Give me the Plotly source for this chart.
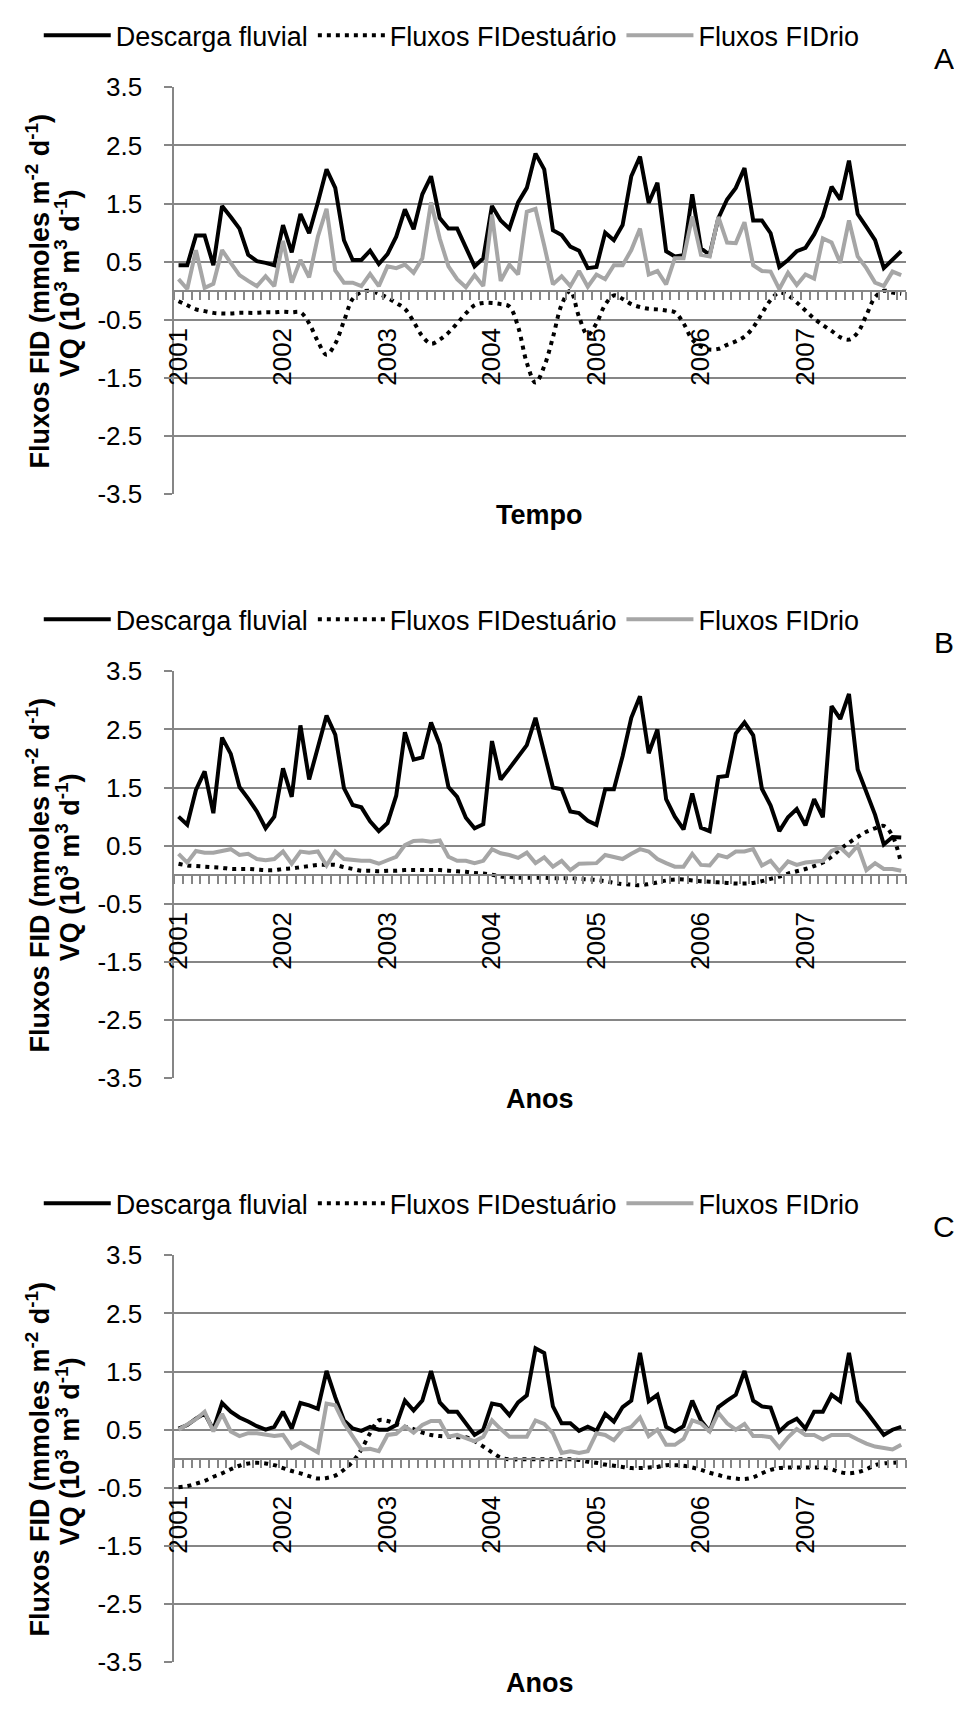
import plotly.graph_objects as go

# monthly series, Jan 2001 .. Dec 2007 (84 months)
years = ['2001', '2002', '2003', '2004', '2005', '2006', '2007']
year_ticks = [0, 12, 24, 36, 48, 60, 72]
months = list(range(84))
month_edges = [m - 0.5 for m in range(85)]
y_ticks = [-3.5, -2.5, -1.5, -0.5, 0.5, 1.5, 2.5, 3.5]
y_ticklabels = ['-3.5', '-2.5', '-1.5', '-0.5', '0.5', '1.5', '2.5', '3.5']

# panel A
descarga_a = [0.44, 0.44, 0.95, 0.95, 0.44, 1.46, 1.27, 1.07, 0.62, 0.51, 0.48, 0.44,
              1.13, 0.66, 1.32, 0.99, 1.52, 2.09, 1.77, 0.87, 0.53, 0.53, 0.69, 0.46,
              0.63, 0.93, 1.40, 1.06, 1.66, 1.97, 1.25, 1.07, 1.07, 0.73, 0.42, 0.56,
              1.46, 1.21, 1.07, 1.52, 1.77, 2.36, 2.09, 1.04, 0.96, 0.76, 0.69, 0.39,
              0.41, 1.00, 0.87, 1.13, 1.97, 2.31, 1.51, 1.86, 0.68, 0.59, 0.61, 1.66,
              0.73, 0.62, 1.25, 1.57, 1.77, 2.11, 1.21, 1.21, 0.99, 0.41, 0.53, 0.68,
              0.74, 0.97, 1.28, 1.79, 1.57, 2.24, 1.32, 1.10, 0.87, 0.39, 0.53, 0.68]
estuario_a = [-0.18, -0.25, -0.32, -0.35, -0.38, -0.39, -0.39, -0.38, -0.38, -0.38, -0.37, -0.37,
              -0.36, -0.37, -0.37, -0.56, -0.87, -1.10, -0.91, -0.52, -0.14, -0.02, 0.00, -0.05,
              -0.12, -0.21, -0.31, -0.53, -0.78, -0.91, -0.84, -0.72, -0.56, -0.39, -0.25, -0.21,
              -0.21, -0.23, -0.27, -0.62, -1.24, -1.58, -1.30, -0.80, -0.24, 0.00, -0.45, -0.76,
              -0.56, -0.24, -0.08, -0.14, -0.23, -0.28, -0.31, -0.32, -0.34, -0.37, -0.56, -0.84,
              -0.96, -1.01, -1.00, -0.93, -0.87, -0.79, -0.63, -0.39, -0.16, -0.03, -0.08, -0.20,
              -0.34, -0.48, -0.59, -0.69, -0.80, -0.84, -0.72, -0.42, -0.11, 0.00, -0.03, -0.05]
rio_a = [0.20, 0.03, 0.70, 0.05, 0.12, 0.70, 0.48, 0.27, 0.17, 0.08, 0.25, 0.08,
         0.86, 0.14, 0.53, 0.23, 0.93, 1.41, 0.35, 0.14, 0.14, 0.08, 0.29, 0.08,
         0.42, 0.39, 0.45, 0.31, 0.56, 1.52, 0.90, 0.42, 0.20, 0.06, 0.27, 0.08,
         1.31, 0.17, 0.45, 0.28, 1.36, 1.41, 0.78, 0.11, 0.25, 0.08, 0.34, 0.07,
         0.28, 0.20, 0.44, 0.44, 0.70, 1.07, 0.28, 0.34, 0.11, 0.56, 0.56, 1.28,
         0.62, 0.59, 1.27, 0.83, 0.82, 1.18, 0.44, 0.34, 0.33, 0.03, 0.31, 0.10,
         0.28, 0.21, 0.90, 0.83, 0.48, 1.21, 0.59, 0.39, 0.14, 0.08, 0.33, 0.27]

# panel B
descarga_b = [1.00, 0.86, 1.46, 1.78, 1.06, 2.36, 2.08, 1.51, 1.31, 1.09, 0.80, 1.00,
              1.83, 1.34, 2.57, 1.64, 2.19, 2.74, 2.41, 1.49, 1.20, 1.16, 0.92, 0.75,
              0.89, 1.36, 2.45, 1.98, 2.02, 2.62, 2.24, 1.51, 1.34, 0.98, 0.80, 0.87,
              2.30, 1.64, 1.83, 2.04, 2.23, 2.70, 2.10, 1.50, 1.47, 1.09, 1.06, 0.93,
              0.86, 1.47, 1.47, 2.04, 2.70, 3.07, 2.09, 2.50, 1.30, 1.00, 0.78, 1.40,
              0.81, 0.75, 1.68, 1.70, 2.43, 2.62, 2.40, 1.48, 1.19, 0.75, 0.99, 1.13,
              0.85, 1.30, 0.99, 2.90, 2.68, 3.11, 1.81, 1.43, 1.03, 0.52, 0.65, 0.64]
estuario_b = [0.19, 0.16, 0.15, 0.14, 0.13, 0.12, 0.10, 0.10, 0.10, 0.09, 0.08, 0.08,
              0.10, 0.11, 0.13, 0.15, 0.17, 0.17, 0.17, 0.13, 0.10, 0.07, 0.07, 0.06,
              0.07, 0.07, 0.08, 0.08, 0.08, 0.08, 0.08, 0.07, 0.06, 0.05, 0.03, 0.02,
              0.00, -0.03, -0.04, -0.05, -0.05, -0.05, -0.05, -0.06, -0.06, -0.06, -0.07, -0.08,
              -0.09, -0.11, -0.14, -0.16, -0.17, -0.18, -0.16, -0.13, -0.10, -0.08, -0.08, -0.10,
              -0.11, -0.12, -0.13, -0.14, -0.15, -0.15, -0.14, -0.11, -0.07, -0.03, 0.02, 0.06,
              0.10, 0.15, 0.21, 0.31, 0.44, 0.55, 0.65, 0.74, 0.80, 0.84, 0.67, 0.19]
rio_b = [0.36, 0.21, 0.41, 0.38, 0.38, 0.41, 0.44, 0.34, 0.36, 0.27, 0.25, 0.27,
         0.40, 0.19, 0.40, 0.38, 0.40, 0.16, 0.40, 0.27, 0.25, 0.24, 0.24, 0.19,
         0.25, 0.31, 0.51, 0.58, 0.59, 0.57, 0.59, 0.31, 0.24, 0.24, 0.20, 0.24,
         0.44, 0.37, 0.34, 0.29, 0.38, 0.20, 0.30, 0.14, 0.24, 0.08, 0.19, 0.19,
         0.20, 0.34, 0.31, 0.27, 0.36, 0.44, 0.40, 0.27, 0.20, 0.14, 0.14, 0.36,
         0.17, 0.16, 0.34, 0.30, 0.40, 0.40, 0.44, 0.16, 0.24, 0.06, 0.23, 0.17,
         0.21, 0.23, 0.24, 0.41, 0.47, 0.33, 0.50, 0.08, 0.20, 0.10, 0.10, 0.07]

# panel C
descarga_c = [0.52, 0.58, 0.69, 0.78, 0.50, 0.96, 0.81, 0.71, 0.64, 0.56, 0.50, 0.55,
              0.81, 0.52, 0.96, 0.92, 0.86, 1.51, 1.06, 0.66, 0.52, 0.48, 0.55, 0.50,
              0.50, 0.58, 1.00, 0.83, 1.00, 1.51, 0.97, 0.81, 0.81, 0.61, 0.41, 0.50,
              0.95, 0.92, 0.75, 0.97, 1.09, 1.90, 1.82, 0.90, 0.61, 0.61, 0.48, 0.55,
              0.48, 0.77, 0.64, 0.89, 1.00, 1.82, 0.99, 1.10, 0.55, 0.47, 0.56, 1.00,
              0.66, 0.47, 0.89, 1.00, 1.10, 1.51, 1.00, 0.90, 0.88, 0.47, 0.61, 0.69,
              0.52, 0.81, 0.81, 1.10, 0.99, 1.82, 0.99, 0.81, 0.61, 0.41, 0.50, 0.55]
estuario_c = [-0.49, -0.47, -0.43, -0.38, -0.31, -0.25, -0.18, -0.12, -0.08, -0.07, -0.08, -0.11,
              -0.16, -0.21, -0.25, -0.30, -0.34, -0.33, -0.29, -0.19, -0.05, 0.16, 0.44, 0.66,
              0.65, 0.60, 0.55, 0.51, 0.45, 0.41, 0.39, 0.38, 0.37, 0.37, 0.30, 0.21,
              0.11, 0.02, -0.01, -0.01, -0.01, -0.01, -0.01, -0.01, -0.01, -0.01, -0.02, -0.05,
              -0.07, -0.10, -0.12, -0.14, -0.16, -0.16, -0.15, -0.14, -0.11, -0.11, -0.12, -0.15,
              -0.19, -0.24, -0.28, -0.32, -0.34, -0.35, -0.32, -0.25, -0.19, -0.16, -0.15, -0.15,
              -0.15, -0.15, -0.15, -0.18, -0.23, -0.25, -0.23, -0.18, -0.11, -0.08, -0.07, -0.06]
rio_c = [0.50, 0.60, 0.68, 0.81, 0.47, 0.77, 0.47, 0.39, 0.44, 0.44, 0.41, 0.39,
         0.41, 0.19, 0.28, 0.19, 0.11, 0.95, 0.92, 0.61, 0.38, 0.16, 0.17, 0.13,
         0.41, 0.43, 0.56, 0.45, 0.58, 0.65, 0.65, 0.38, 0.41, 0.35, 0.30, 0.38,
         0.66, 0.51, 0.38, 0.38, 0.38, 0.66, 0.60, 0.44, 0.10, 0.13, 0.10, 0.13,
         0.44, 0.41, 0.32, 0.50, 0.55, 0.71, 0.39, 0.50, 0.24, 0.24, 0.34, 0.66,
         0.61, 0.47, 0.79, 0.61, 0.50, 0.60, 0.39, 0.39, 0.37, 0.19, 0.37, 0.51,
         0.41, 0.41, 0.33, 0.41, 0.41, 0.41, 0.33, 0.26, 0.21, 0.19, 0.16, 0.24]

# the page body keeps its default 8px margin, so the figure is 16px smaller
# than the window and every position below is given in page pixels
PAGE_W, PAGE_H = 962, 1713
PAD = 8
W, H = PAGE_W - 2 * PAD, PAGE_H - 2 * PAD
FONT = 'Liberation Sans, Arial, sans-serif'
GRID = '#868686'
GREY = '#a6a6a6'


def px(x):
    return (x - PAD) / W


def py(y):
    return 1 - (y - PAD) / H


panels = [
    ('A', 'Tempo', descarga_a, estuario_a, rio_a),
    ('B', 'Anos', descarga_b, estuario_b, rio_b),
    ('C', 'Anos', descarga_c, estuario_c, rio_c),
]

fig = go.Figure()
annotations = []
layout = {}

for k, (letter, xtitle, desc, est, rio) in enumerate(panels):
    off = 594.5 * k
    top, bot = 73.5 + off, 487.7 + off
    sfx = '' if k == 0 else str(k + 1)
    leg = 'legend' + sfx

    fig.add_trace(go.Scatter(x=months, y=desc, mode='lines', name='Descarga fluvial',
                             line=dict(color='black', width=4),
                             xaxis='x' + sfx, yaxis='y' + sfx, legend=leg))
    fig.add_trace(go.Scatter(x=months, y=est, mode='lines', name='Fluxos FIDestuário',
                             line=dict(color='black', width=4, dash='4px,5px', shape='spline'),
                             xaxis='x' + sfx, yaxis='y' + sfx, legend=leg))
    fig.add_trace(go.Scatter(x=months, y=rio, mode='lines', name='Fluxos FIDrio',
                             line=dict(color=GREY, width=4),
                             xaxis='x' + sfx, yaxis='y' + sfx, legend=leg))

    layout['xaxis' + sfx] = dict(
        domain=[px(165), px(905)], range=[-0.5, 83.5],
        anchor='free', position=(py(top) + py(bot)) / 2,
        showline=True, linecolor=GRID, linewidth=1.5,
        showgrid=False, zeroline=False,
        tickmode='array', tickvals=year_ticks, ticktext=years, tickangle=-90,
        ticks='outside', ticklen=8, tickcolor='rgba(0,0,0,0)', ticklabelstandoff=18,
        tickfont=dict(size=26, color='black'),
        minor=dict(tickmode='array', tickvals=month_edges, ticks='outside',
                   ticklen=8, tickwidth=1.5, tickcolor=GRID, showgrid=False),
    )
    layout['yaxis' + sfx] = dict(
        domain=[py(bot), py(top)], range=[-3.5, 3.5], anchor='x' + sfx,
        tickmode='array', tickvals=y_ticks, ticktext=y_ticklabels,
        showgrid=True, gridcolor=GRID, gridwidth=1.5, zeroline=False,
        showline=True, linecolor=GRID, linewidth=1.5,
        ticks='outside', ticklen=8, tickcolor=GRID, tickwidth=1.5,
        ticklabelstandoff=17, tickfont=dict(size=26, color='black'),
    )
    layout[leg] = dict(
        orientation='h', x=px(28), xanchor='left', y=py(21 + off), yanchor='middle',
        font=dict(size=27, color='black'), bgcolor='rgba(0,0,0,0)', itemwidth=67,
    )

    mid = (top + bot) / 2
    annotations += [
        dict(x=px(535), y=py(509 + off), text='<b>' + xtitle + '</b>'),
        dict(x=px(944), y=py(44 + off), text=letter, font=dict(size=30, color='black')),
        dict(x=px(27), y=py(mid), textangle=-90,
             text='<b>Fluxos FID (mmoles m<sup>-2</sup> d<sup>-1</sup>)</b>'),
        dict(x=px(57), y=py(mid - 8), textangle=-90,
             text='<b>VQ (10<sup>3</sup> m<sup>3</sup> d<sup>-1</sup>)</b>'),
    ]

for a in annotations:
    a.update(xref='paper', yref='paper', showarrow=False, xanchor='center', yanchor='middle')
    a.setdefault('font', dict(size=27, color='black'))

fig.update_layout(**layout)
fig.update_layout(
    width=W, height=H, margin=dict(l=0, r=0, t=0, b=0),
    paper_bgcolor='white', plot_bgcolor='white',
    font=dict(family=FONT, color='black'),
    annotations=annotations, showlegend=True,
)

fig.write_html("out.html")
